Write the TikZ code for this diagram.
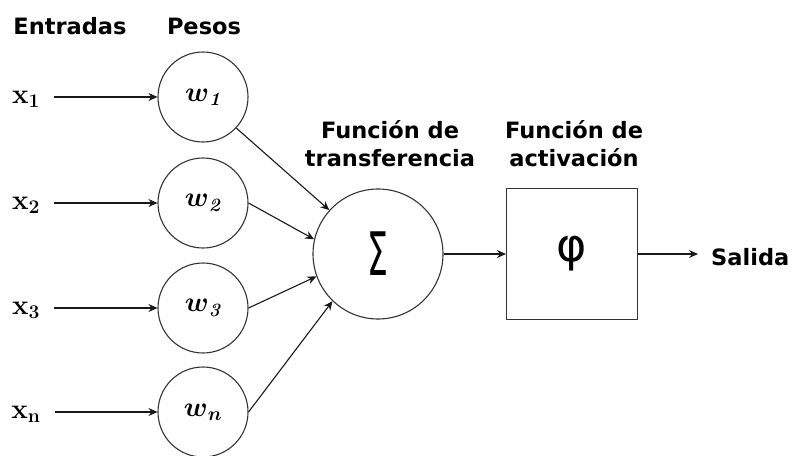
\documentclass[tikz,border=0pt]{standalone}
\usepackage{amsmath}
\usepackage[no-math]{fontspec}
\setmainfont{DejaVu Sans}
\newfontfamily\dvs{DejaVu Sans}
\newfontfamily\lmr{Latin Modern Roman}
\usetikzlibrary{arrows.meta}
\newcommand{\mathup}[1]{\scalebox{1.12}{#1}}
\begin{document}
\begin{tikzpicture}[x=1pt,y=-1pt,
  lbl/.style={font=\fontsize{22.5}{28}\selectfont\bfseries, align=center, inner sep=0pt},
  mth/.style={font=\fontsize{24}{26}\selectfont\boldmath, inner sep=0pt},
  wcirc/.style={circle, draw=black!80, line width=1.1pt, minimum size=90pt, inner sep=0pt, font=\fontsize{24}{26}\selectfont},
  arr/.style={draw=black!90, line width=1.1pt, -{Stealth[length=9pt,width=8pt]}},
]
\useasboundingbox (0,0) rectangle (794,455);
% headers
\node[lbl] (hin) at (70,26) {Entradas};
\node[lbl] (hw) at (204,26) {Pesos};
\node[lbl] (htr) at (390,144) {Función de\\transferencia};
\node[lbl] (hac) at (574,144) {Función de\\activación};
% inputs
\node[mth] (x1) at (26,99) {\mathup{$\mathbf{x}_{\mathbf{1}}$}};
\node[mth] (x2) at (26,205) {\mathup{$\mathbf{x}_{\mathbf{2}}$}};
\node[mth] (x3) at (26,310) {\mathup{$\mathbf{x}_{\mathbf{3}}$}};
\node[mth] (xn) at (26,414) {\mathup{$\mathbf{x}_{\mathrm{n}}$}};
% weights
\node[wcirc] (w1) at (203,97) {\mathup{$\boldsymbol{w}_{\textbf{\textit{\lmr 1}}}$}};
\node[wcirc] (w2) at (203,203) {\mathup{$\boldsymbol{w}_{\textbf{\textit{\lmr 2}}}$}};
\node[wcirc] (w3) at (203,308) {\mathup{$\boldsymbol{w}_{\textbf{\textit{\lmr 3}}}$}};
\node[wcirc] (wn) at (203,412) {\mathup{$\boldsymbol{w}_{\boldsymbol{n}}$}};
% sum
\node[circle, draw=black!80, line width=1.1pt, minimum size=130pt, inner sep=0pt,
      font=\fontsize{60}{60}\selectfont] (sig) at (378,254) {\scalebox{0.55}[1]{\dvs Σ}};
% activation
\node[draw=black!80, line width=1.1pt, minimum width=131pt, minimum height=131pt, inner sep=0pt,
      font=\fontsize{46}{46}\selectfont] (phi) at (572,254) {\dvs φ};
% output
\node[lbl, anchor=west] (out) at (711,257) {Salida};
\coordinate (oend) at (698,254);
% connectors
\draw[arr] (x1.east) ++(14,-2) coordinate (x1s) -- (w1.west);
\draw[arr] (x2.east) ++(14,-2) coordinate (x2s) -- (w2.west);
\draw[arr] (x3.east) ++(14,-2) coordinate (x3s) -- (w3.west);
\draw[arr] (xn.east) ++(14,-2) coordinate (xns) -- (wn.west);
\draw[arr] (w1.-43) -- (sig.138);
\draw[arr] (w2.east) -- (sig.167);
\draw[arr] (w3.east) -- (sig.200);
\draw[arr] (wn.east) -- (sig.226);
\draw[arr] (sig.east) -- (phi.west);
\draw[arr] (phi.east) -- (oend);
\end{tikzpicture}
\end{document}
